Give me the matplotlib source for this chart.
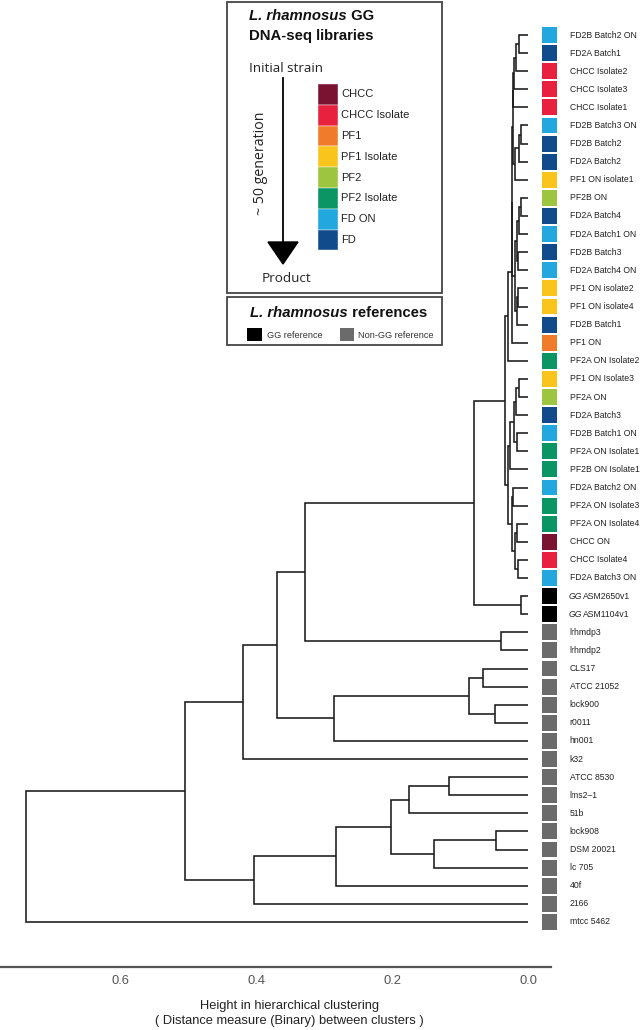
import matplotlib
matplotlib.use("Agg")
import matplotlib.pyplot as plt
from matplotlib.patches import Rectangle, Polygon

plt.rcParams['font.family'] = ['Liberation Sans', 'DejaVu Sans']

# leaves, top to bottom
leaf_labels = [
    "FD2B Batch2 ON", "FD2A Batch1", "CHCC Isolate2", "CHCC Isolate3", "CHCC Isolate1",
    "FD2B Batch3 ON", "FD2B Batch2", "FD2A Batch2", "PF1 ON isolate1", "PF2B ON",
    "FD2A Batch4", "FD2A Batch1 ON", "FD2B Batch3", "FD2A Batch4 ON", "PF1 ON isolate2",
    "PF1 ON isolate4", "FD2B Batch1", "PF1 ON", "PF2A ON Isolate2", "PF1 ON Isolate3",
    "PF2A ON", "FD2A Batch3", "FD2B Batch1 ON", "PF2A ON Isolate1", "PF2B ON Isolate1",
    "FD2A Batch2 ON", "PF2A ON Isolate3", "PF2A ON Isolate4", "CHCC ON", "CHCC Isolate4",
    "FD2A Batch3 ON", "ASM2650v1", "ASM1104v1", "lrhmdp3", "lrhmdp2",
    "CLS17", "ATCC 21052", "lock900", "r0011", "hn001",
    "k32", "ATCC 8530", "lms2\u20131", "51b", "lock908",
    "DSM 20021", "lc 705", "40f", "2166", "mtcc 5462",
]
leaf_groups = [
    "FD ON", "FD", "CHCC Isolate", "CHCC Isolate", "CHCC Isolate",
    "FD ON", "FD", "FD", "PF1 Isolate", "PF2",
    "FD", "FD ON", "FD", "FD ON", "PF1 Isolate",
    "PF1 Isolate", "FD", "PF1", "PF2 Isolate", "PF1 Isolate",
    "PF2", "FD", "FD ON", "PF2 Isolate", "PF2 Isolate",
    "FD ON", "PF2 Isolate", "PF2 Isolate", "CHCC", "CHCC Isolate",
    "FD ON", "GG", "GG", "nonGG", "nonGG",
    "nonGG", "nonGG", "nonGG", "nonGG", "nonGG",
    "nonGG", "nonGG", "nonGG", "nonGG", "nonGG",
    "nonGG", "nonGG", "nonGG", "nonGG", "nonGG",
]

legend_names = ["CHCC", "CHCC Isolate", "PF1", "PF1 Isolate", "PF2", "PF2 Isolate", "FD ON", "FD"]
legend_colors = ["#7a1232", "#e8213f", "#f07b2a", "#f9c51d", "#9dc53f", "#0b9564", "#22a7df", "#114b8c"]
ref_colors = {"GG": "#000000", "nonGG": "#6b6b6b"}

# hclust-style merges: negative = leaf number, positive = earlier merge row
merge_left = [
    -1, 1, 2, 3, -6, 5, 6, 4,
    -10, 9, -13, 10, -15, 13, 12, 8, 16, 17,
    -20, 19, -23, 20, 22, -26, -28, -30, 25, 24, 23,
    18, -32, 30, -34, 32, -36, -38, 35, 37, 34,
    39, -42, 41, -45, 43, 42, 45, 46, 40, 48,
]
merge_right = [
    -2, -3, -4, -5, -7, -8, -9, 7,
    -11, -12, -14, 11, -16, -17, 14, 15, -18, -19,
    -21, -22, -24, 21, -25, -27, -29, -31, 26, 27, 28,
    29, -33, 31, -35, 33, -37, -39, 36, -40, 38,
    -41, -43, -44, -46, -47, 44, -48, -49, 47, -50,
]
merge_height = [
    0.013, 0.017, 0.020, 0.022, 0.010, 0.013, 0.019, 0.0225,
    0.010, 0.013, 0.014, 0.016, 0.014, 0.016, 0.019, 0.023, 0.024, 0.029,
    0.013, 0.017, 0.016, 0.020, 0.026, 0.022, 0.016, 0.014, 0.019, 0.023, 0.030,
    0.034, 0.010, 0.079, 0.040, 0.328, 0.066, 0.048, 0.087, 0.285, 0.369,
    0.419, 0.116, 0.175, 0.047, 0.138, 0.201, 0.282, 0.403, 0.504, 0.738,
]

x_ticks = [0.6, 0.4, 0.2, 0.0]

W, H = 640, 1030
fig = plt.figure(figsize=(W / 100, H / 100), dpi=100)

# leaf i sits at pixel 35 + 18.1*(i-1); dendrogram axes from px 20 to 967
step = 18.1
y_top = 1 + (20 - 35) / step
y_bot = 1 + (967 - 35) / step
ax = fig.add_axes([0, (H - 967) / H, 551 / W, 947 / H])
ax.set_xlim(528 / 680, -23 / 680)
ax.set_ylim(y_bot, y_top)

node_y = {}


def pos(k):
    if k < 0:
        return -k, 0.0
    return node_y[k], merge_height[k - 1]


for k in range(1, len(merge_height) + 1):
    ya, ha = pos(merge_left[k - 1])
    yb, hb = pos(merge_right[k - 1])
    h = merge_height[k - 1]
    ax.plot([ha, h, h, hb], [ya, ya, yb, yb], color="#1a1a1a", lw=1.15,
            solid_joinstyle="miter", solid_capstyle="butt")
    node_y[k] = (ya + yb) / 2

for s in ["top", "left", "right"]:
    ax.spines[s].set_visible(False)
ax.spines["bottom"].set_color("#555555")
ax.spines["bottom"].set_linewidth(1.6)
ax.set_yticks([])
ax.set_xticks(x_ticks)
ax.set_xticklabels(["%.1f" % v for v in x_ticks])
ax.tick_params(axis="x", length=0, pad=5.5, labelsize=9.3, labelcolor="#555555")

fig.text(289 / W, 1 - 1006 / H, "Height in hierarchical clustering", fontsize=9.3,
         ha="center", va="center", color="#222222")
fig.text(289 / W, 1 - 1021 / H, "( Distance measure (Binary) between clusters )", fontsize=9.3,
         ha="center", va="center", color="#222222")

# colour squares + leaf labels
ax2 = fig.add_axes([540 / W, (H - 967) / H, 100 / W, 947 / H])
ax2.set_xlim(0, 100)
ax2.set_ylim(y_bot, y_top)
ax2.axis("off")
color_of = dict(zip(legend_names, legend_colors))
color_of.update(ref_colors)
for i, (lab, grp) in enumerate(zip(leaf_labels, leaf_groups), start=1):
    ax2.add_patch(Rectangle((2, i - 0.44), 15, 0.88, facecolor=color_of[grp], edgecolor="none"))
    if grp == "GG":
        ax2.text(29, i, "GG", fontsize=6.2, fontstyle="italic", va="center", ha="left", color="#222222")
        ax2.text(43, i, lab, fontsize=6.2, va="center", ha="left", color="#222222")
    else:
        ax2.text(29.5, i, lab, fontsize=6.2, va="center", ha="left", color="#222222")

# legend panel, in pixel coordinates
lg = fig.add_axes([0, 0, 1, 1])
lg.set_xlim(0, W)
lg.set_ylim(H, 0)
lg.axis("off")
renderer = fig.canvas.get_renderer()


def mixed(x, y, parts, size):
    for s, style in parts:
        t = lg.text(x, y, s, fontsize=size, fontweight="bold", fontstyle=style,
                    va="center", ha="left", color="#111111")
        x += t.get_window_extent(renderer=renderer).width


lg.add_patch(Rectangle((227, 2), 215, 291, facecolor="white", edgecolor="#444444", lw=1.3))
lg.add_patch(Rectangle((227, 297), 215, 48, facecolor="white", edgecolor="#444444", lw=1.3))

mixed(249, 16, [("L. rhamnosus", "italic"), (" GG", "normal")], 10.7)
lg.text(249, 36, "DNA-seq libraries", fontsize=10.7, fontweight="bold", va="center", ha="left", color="#111111")

lg.text(249, 69, "Initial strain", fontsize=9.7, va="center", ha="left", family="Open Sans", color="#222222")
lg.text(262, 279, "Product", fontsize=9.7, va="center", ha="left", family="Open Sans", color="#222222")
lg.text(260, 163, "~ 50 generation", fontsize=10.2, rotation=90, va="center", ha="center",
        family="Open Sans", color="#222222")
lg.plot([283, 283], [78, 244], color="black", lw=1.3)
lg.add_patch(Polygon([[268, 242], [298, 242], [283, 264]], closed=True, facecolor="black", edgecolor="black"))

box_h = 20.8
for j, (nm, c) in enumerate(zip(legend_names, legend_colors)):
    y0 = 84 + j * box_h
    lg.add_patch(Rectangle((318, y0), 20, box_h, facecolor=c, edgecolor="white", lw=0.3))
    lg.text(341, y0 + box_h / 2, nm, fontsize=8.0, va="center", ha="left", color="#222222")

mixed(250, 313, [("L. rhamnosus", "italic"), (" references", "normal")], 10.7)
lg.add_patch(Rectangle((247, 328), 15, 13, facecolor=ref_colors["GG"], edgecolor="none"))
lg.text(267, 335, "GG reference", fontsize=6.6, va="center", ha="left", color="#333333")
lg.add_patch(Rectangle((340, 328), 14, 13, facecolor=ref_colors["nonGG"], edgecolor="none"))
lg.text(358, 335, "Non-GG reference", fontsize=6.6, va="center", ha="left", color="#333333")

fig.savefig("out.png", dpi=100)
